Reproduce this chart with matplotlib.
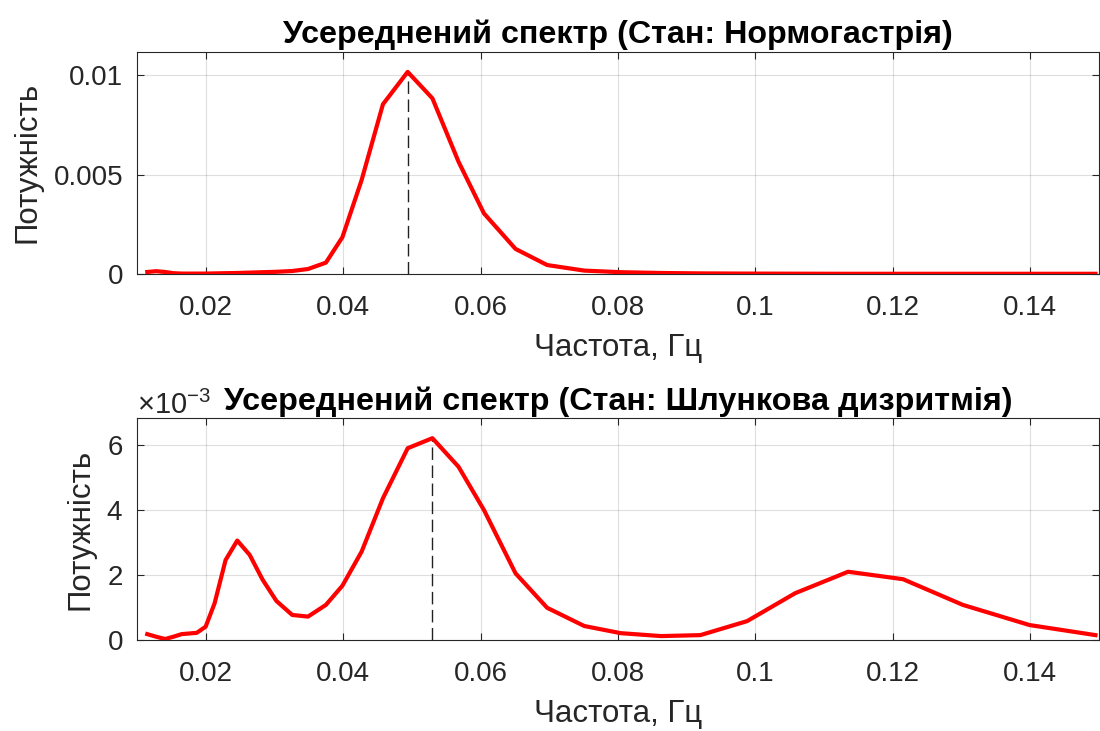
import numpy as np
import matplotlib
matplotlib.use("Agg")
import matplotlib.pyplot as plt
from matplotlib.ticker import ScalarFormatter

plt.rcParams['font.family'] = ['Liberation Sans', 'DejaVu Sans']
plt.rcParams['mathtext.fontset'] = 'custom'
plt.rcParams['mathtext.rm'] = 'Liberation Sans'
plt.rcParams['mathtext.it'] = 'Liberation Sans:italic'

# Frequency grid, Hz
freq = [0.0115, 0.0128, 0.0141, 0.0153, 0.0165, 0.0176, 0.0187, 0.0200, 0.0213,
        0.0229, 0.0246, 0.0264, 0.0283, 0.0303, 0.0326, 0.0349, 0.0375, 0.0399,
        0.0427, 0.0458, 0.0494, 0.0530, 0.0568, 0.0605, 0.0651, 0.0697, 0.0751,
        0.0804, 0.0863, 0.0920, 0.0988, 0.1058, 0.1135, 0.1215, 0.1302, 0.1399,
        0.1495]

# Power, units of 1e-3
normo = [0.10, 0.14, 0.10, 0.04, 0.02, 0.02, 0.02, 0.02, 0.03,
         0.04, 0.05, 0.07, 0.09, 0.11, 0.15, 0.25, 0.57, 1.85,
         4.73, 8.54, 10.17, 8.84, 5.65, 3.05, 1.26, 0.45, 0.17,
         0.09, 0.05, 0.03, 0.02, 0.015, 0.01, 0.01, 0.01, 0.01,
         0.01]
dysr = [0.18, 0.10, 0.03, 0.10, 0.18, 0.20, 0.22, 0.41, 1.13,
        2.46, 3.06, 2.62, 1.85, 1.20, 0.77, 0.72, 1.08, 1.67,
        2.72, 4.36, 5.90, 6.21, 5.33, 4.00, 2.05, 0.99, 0.43,
        0.21, 0.12, 0.15, 0.58, 1.44, 2.10, 1.87, 1.08, 0.46,
        0.15]

titles = ["Усереднений спектр (Стан: Нормогастрія)",
          "Усереднений спектр (Стан: Шлункова дизритмія)"]
xticks = [0.02, 0.04, 0.06, 0.08, 0.1, 0.12, 0.14]
xticklabels = ['0.02', '0.04', '0.06', '0.08', '0.1', '0.12', '0.14']

fig = plt.figure(figsize=(11, 7.31), dpi=100)
ax1 = fig.add_axes([0.1245, 0.6252, 0.8745, 0.3041])
ax2 = fig.add_axes([0.1245, 0.1245, 0.8745, 0.3037])

gray = '#262626'
f = np.array(freq)
for ax, vals, title in zip([ax1, ax2], [normo, dysr], titles):
    p = np.array(vals) * 1e-3
    ax.plot(f, p, color='red', lw=3, zorder=3)
    i = np.argmax(p)
    ax.plot([f[i], f[i]], [0, p[i]], color='#222222', lw=1, dashes=(9, 4), zorder=2)
    ax.set_xlim(0.01, 0.15)
    ax.set_ylim(0, 1.1 * p.max())
    ax.set_xticks(xticks)
    ax.set_xticklabels(xticklabels)
    ax.grid(True, color=gray, alpha=0.15, lw=0.8)
    ax.tick_params(direction='in', top=True, right=True, length=5, width=0.8,
                   colors=gray, labelsize=20)
    ax.tick_params(axis='x', pad=15)
    ax.tick_params(axis='y', pad=10)
    for s in ax.spines.values():
        s.set_color(gray)
        s.set_linewidth(0.8)
    ax.set_xlabel("Частота, Гц", fontsize=22.5, color=gray, labelpad=9)
    ax.set_ylabel("Потужність", fontsize=22.5, color=gray, labelpad=8)

ax1.set_title(titles[0], fontsize=23.2, fontweight='bold', pad=6)
ax2.set_title(titles[1], fontsize=23.3, fontweight='bold', pad=6)

ax1.set_yticks([0, 0.005, 0.01])
ax1.set_yticklabels(['0', '0.005', '0.01'])

fmt = ScalarFormatter(useMathText=True)
fmt.set_powerlimits((-1, 1))
ax2.yaxis.set_major_formatter(fmt)
ax2.set_yticks([0, 0.002, 0.004, 0.006])
ax2.yaxis.get_offset_text().set_fontsize(21)
ax2.yaxis.get_offset_text().set_color(gray)

fig.savefig("out.png", dpi=100)
